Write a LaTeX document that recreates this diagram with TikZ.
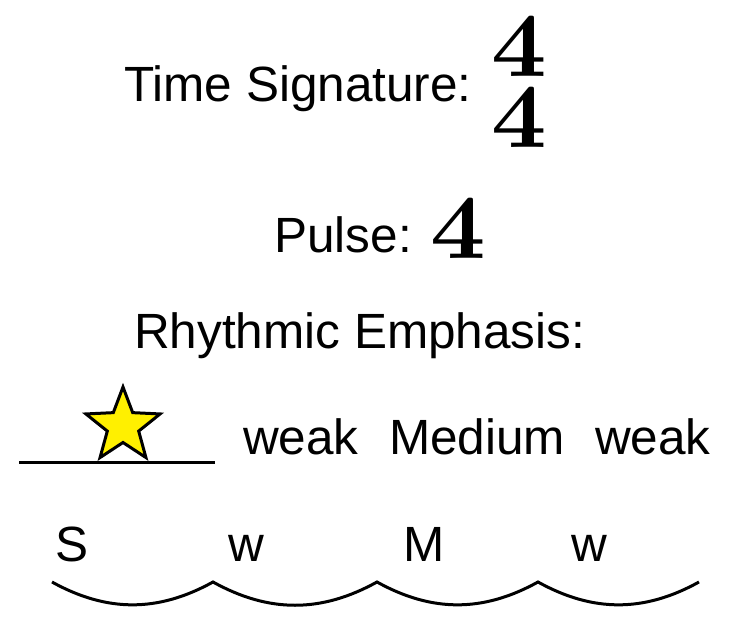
\documentclass[tikz,border=0pt]{standalone}
\usepackage{fontspec}
\usepackage{graphicx}
\usetikzlibrary{calc}
\setmainfont{Liberation Sans}
\newfontfamily\sigfont{lmroman10-bold.otf}
\definecolor{staryellow}{RGB}{255,240,0}
\tikzset{
  txt/.style={font=\fontsize{49.5}{60}\selectfont, inner sep=0pt, anchor=base west},
  sig/.style={font=\sigfont\fontsize{92}{100}\selectfont, inner sep=0pt, anchor=base},
  thick line/.style={line width=3pt, line cap=butt},
}
\begin{document}
\begin{tikzpicture}[x=1pt,y=1pt]
\useasboundingbox (0,0) rectangle (731,616);
% headings
\node[txt] (ts) at (124,514) {Time Signature:};
\node[sig] (top4) at (519.5,539) {\scalebox{1.05}[1]{4}};
\node[sig] (bot4) at (519.5,468) {\scalebox{1.05}[1]{4}};
\node[txt] (pulse) at (274,363) {Pulse:};
\node[sig] (p4) at (458,357) {\scalebox{1.05}[1]{4}};
\node[txt] (re) at (134,267) {Rhythmic Emphasis:};
% emphasis row
\coordinate (l0) at (19,153);
\coordinate (l1) at (215,153);
\draw[thick line] (l0) -- (l1);
\coordinate (sc) at (123,190);
\draw[line width=3pt, line join=miter, fill=staryellow]
  ($(sc)+(90:39)$)
  \foreach \a in {0,1,2,3,4} {
    -- ($(sc)+(126+72*\a:16.5)$) -- ($(sc)+(162+72*\a:39)$)
  } -- cycle;
\node[txt] (w1) at (243,161) {weak};
\node[txt] (med) at (389,161) {Medium};
\node[txt] (w2) at (595,161) {weak};
% beat letters
\node[txt] (bS) at (55,54) {S};
\node[txt] (bw1) at (228,54) {w};
\node[txt] (bM) at (403,54) {M};
\node[txt] (bw2) at (571,54) {w};
% arcs
\coordinate (c0) at (52,34);
\coordinate (c1) at (213,34);
\coordinate (c2) at (377,34);
\coordinate (c3) at (538,34);
\coordinate (c4) at (699,34);
\draw[line width=3pt] (c0) to[bend right=29] (c1) to[bend right=29] (c2)
  to[bend right=29] (c3) to[bend right=29] (c4);
\end{tikzpicture}
\end{document}
